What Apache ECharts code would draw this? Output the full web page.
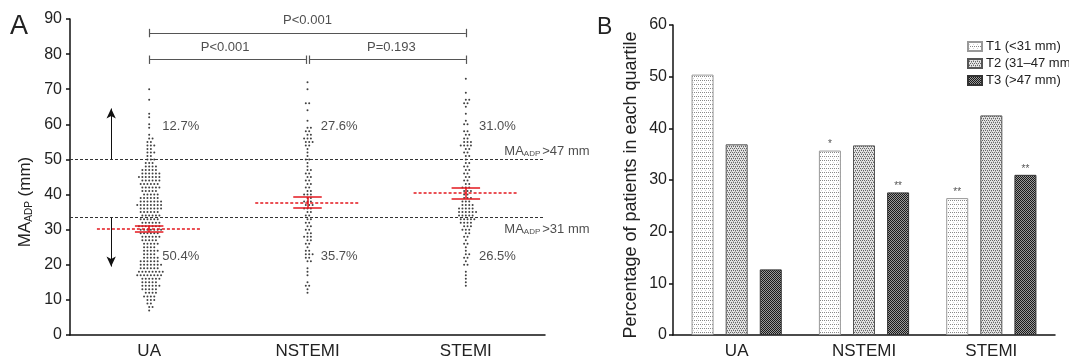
<!DOCTYPE html>
<html>
<head>
<meta charset="utf-8">
<script src="https://cdn.jsdelivr.net/npm/echarts@6/dist/echarts.min.js"></script>
<style>
  html, body { margin: 0; padding: 0; background: #fff; }
  #chart { width: 1069px; height: 361px; }
</style>
</head>
<body>
<div id="chart"></div>
<script>
const groups = ["UA", "NSTEMI", "STEMI"];

// panel A: dots per 1-mm row, first row value in *Start
const uaStart = 7;
const uaCounts = [1, 2, 2, 3, 4, 4, 5, 6, 5, 6,
  8, 8, 6, 7, 6, 5, 4, 5, 4, 5,
  5, 6, 6, 7, 7, 6, 6, 6, 6, 7,
  8, 7, 6, 5, 5, 6, 6, 6, 7, 6,
  5, 4, 3, 3, 2, 3, 2, 3, 2, 2,
  1, 0, 1, 1, 0, 1, 1, 0, 0, 0,
  1, 0, 0, 1];
const nstemiStart = 12;
const nstemiCounts = [1, 1, 2, 1, 0, 1, 1, 1, 0, 2,
  2, 3, 2, 1, 2, 2, 3, 2, 2, 2,
  2, 2, 2, 2, 3, 3, 3, 2, 3, 2,
  2, 2, 2, 2, 2, 2, 1, 1, 2, 1,
  1, 1, 2, 3, 3, 2, 2, 2, 0, 1,
  0, 0, 1, 0, 2, 0, 0, 0, 1, 0, 1];
const stemiStart = 14;
const stemiCounts = [1, 1, 1, 1, 1, 0, 2, 1, 2, 2,
  1, 1, 2, 1, 2, 2, 3, 3, 4, 5,
  5, 6, 5, 4, 3, 3, 2, 3, 3, 2,
  2, 2, 2, 2, 2, 2, 1, 2, 2, 2,
  4, 3, 2, 2, 2, 0, 2, 1, 0, 1,
  0, 1, 2, 2, 0, 1, 0, 0, 0, 1];

const meanA = [30.2, 37.7, 40.4];
const semA = [0.9, 1.6, 1.5];
const cutHigh = 50;
const cutLow = 33.4;
const upperPct = ["12.7%", "27.6%", "31.0%"];
const lowerPct = ["50.4%", "35.7%", "26.5%"];
const pTop = "P<0.001";
const pPairs = ["P<0.001", "P=0.193"];

// panel B
const seriesNames = ["T1 (<31 mm)", "T2 (31\u201347 mm)", "T3 (>47 mm)"];
const t1 = [50.4, 35.7, 26.5];
const t2 = [36.9, 36.7, 42.5];
const t3 = [12.7, 27.6, 31.0];
const t1Stars = ["", "*", "**"];
const t2Stars = ["", "", ""];
const t3Stars = ["", "**", "**"];

const FONT = "Liberation Sans, Arial, sans-serif";
const dx = 3.4 / 158.3; // dot spacing in axis units

function buildDots(g, start, counts) {
  const pts = [];
  counts.forEach((c, k) => {
    // every other row shifted half a step, like a swarm
    const shift = k % 2 ? dx / 2 : 0;
    for (let i = 0; i < c; i++) {
      pts.push([g + 0.5 + (i - (c - 1) / 2) * dx + (c > 1 ? shift : 0), start + k]);
    }
  });
  return pts;
}

function pattern(w, h, draw) {
  const c = document.createElement("canvas");
  c.width = w;
  c.height = h;
  draw(c.getContext("2d"));
  return { image: c, repeat: "repeat" };
}

const fillT1 = pattern(4, 4, (ctx) => {
  ctx.fillStyle = "#fff";
  ctx.fillRect(0, 0, 4, 4);
  ctx.fillStyle = "#888";
  ctx.fillRect(0, 0, 1, 1);
  ctx.fillRect(2, 0, 1, 1);
  ctx.fillStyle = "#d4d4d4";
  ctx.fillRect(1, 2, 1, 1);
});
const fillT2 = pattern(4, 4, (ctx) => {
  ctx.fillStyle = "#e4e4e4";
  ctx.fillRect(0, 0, 4, 4);
  ctx.fillStyle = "#666";
  ctx.fillRect(0, 0, 1, 1);
  ctx.fillRect(2, 0, 1, 1);
  ctx.fillRect(1, 2, 1, 1);
  ctx.fillRect(3, 2, 1, 1);
  ctx.fillStyle = "#aaa";
  ctx.fillRect(1, 1, 1, 1);
  ctx.fillRect(3, 3, 1, 1);
});
const fillT3 = pattern(2, 2, (ctx) => {
  ctx.fillStyle = "#9a9a9a";
  ctx.fillRect(0, 0, 2, 2);
  ctx.fillStyle = "#1a1a1a";
  ctx.fillRect(0, 0, 1, 1);
  ctx.fillRect(1, 1, 1, 1);
});

function seg(x1, y1, x2, y2) {
  return [{ coord: [x1, y1] }, { coord: [x2, y2] }];
}

function lineGroup(name, data, lineStyle, symbol) {
  return {
    name: name,
    type: "line",
    xAxisIndex: 1,
    yAxisIndex: 0,
    data: [],
    markLine: {
      silent: true,
      symbol: symbol || ["none", "none"],
      symbolSize: [7, 10],
      label: { show: false },
      lineStyle: lineStyle,
      data: data,
    },
  };
}

function textGroup(items, position, style) {
  return {
    type: "scatter",
    xAxisIndex: 1,
    yAxisIndex: 0,
    symbolSize: 1,
    itemStyle: { color: "transparent" },
    silent: true,
    label: Object.assign(
      { show: true, position: position, distance: 0, formatter: "{b}", fontFamily: FONT },
      style,
    ),
    data: items,
  };
}

const meanSegs = meanA.map((m, g) => seg(g + 0.17, m, g + 0.83, m));
const semSegs = [];
meanA.forEach((m, g) => {
  const c = g + 0.5;
  semSegs.push(seg(c - 0.09, m + semA[g], c + 0.09, m + semA[g]));
  semSegs.push(seg(c - 0.09, m - semA[g], c + 0.09, m - semA[g]));
  semSegs.push(seg(c, m - semA[g], c, m + semA[g]));
});
const bracketSegs = [
  seg(0.5, 86, 2.5, 86), seg(0.5, 84.8, 0.5, 87.2), seg(2.5, 84.8, 2.5, 87.2),
  seg(0.5, 78.4, 1.49, 78.4), seg(0.5, 77.2, 0.5, 79.6), seg(1.49, 77.2, 1.49, 79.6),
  seg(1.51, 78.4, 2.5, 78.4), seg(1.51, 77.2, 1.51, 79.6), seg(2.5, 77.2, 2.5, 79.6),
];

const subRich = {
  n: { fontSize: 13, color: "#222", fontFamily: FONT, lineHeight: 16, verticalAlign: "bottom" },
  s: { fontSize: 8, color: "#222", fontFamily: FONT, lineHeight: 16, verticalAlign: "bottom", padding: [0, 2, 0, 0] },
};

const chart = echarts.init(document.getElementById("chart"));

chart.setOption({
  animation: false,
  backgroundColor: "#fff",
  textStyle: { fontFamily: FONT },
  graphic: [
    { type: "text", left: 10, top: 13, style: { text: "A", fontSize: 27, fill: "#222", fontFamily: FONT } },
    { type: "text", left: 597, top: 16, style: { text: "B", fontSize: 23, fill: "#222", fontFamily: FONT } },
  ],
  legend: {
    data: seriesNames,
    orient: "vertical",
    left: 967,
    top: 40,
    padding: 0,
    itemWidth: 14,
    itemHeight: 9,
    itemGap: 4,
    icon: "rect",
    textStyle: { fontSize: 13, color: "#222", fontFamily: FONT, padding: [0, 0, 0, -1] },
  },
  grid: [
    { left: 70, top: 19, width: 475, height: 316 },
    { left: 673, top: 25, width: 382, height: 310 },
  ],
  xAxis: [
    {
      type: "category",
      gridIndex: 0,
      data: groups,
      axisLine: { lineStyle: { color: "#111", width: 1.5 } },
      axisTick: { alignWithLabel: true, length: 4, lineStyle: { color: "#111", width: 1.5 } },
      axisLabel: { fontSize: 17, color: "#222", margin: 8, fontFamily: FONT },
    },
    { type: "value", gridIndex: 0, min: 0, max: 3, show: false },
    {
      type: "category",
      gridIndex: 1,
      data: groups,
      axisLine: { lineStyle: { color: "#111", width: 1.5 } },
      axisTick: { alignWithLabel: true, length: 4, lineStyle: { color: "#111", width: 1.5 } },
      axisLabel: { fontSize: 17, color: "#222", margin: 8, fontFamily: FONT },
    },
  ],
  yAxis: [
    {
      type: "value",
      gridIndex: 0,
      min: 0,
      max: 90,
      interval: 10,
      splitLine: { show: false },
      axisLine: { show: true, lineStyle: { color: "#111", width: 1.5 } },
      axisTick: { show: true, length: 4, lineStyle: { color: "#111", width: 1.5 } },
      axisLabel: { fontSize: 16, color: "#222", margin: 8, fontFamily: FONT },
      name: "{n|MA}{s|ADP}{n| (mm)}",
      nameLocation: "middle",
      nameRotate: 90,
      nameGap: 36,
      nameTextStyle: {
        padding: [0, 50, 0, 0],
        rich: {
          n: { fontSize: 17, color: "#222", fontFamily: FONT, lineHeight: 20, verticalAlign: "bottom" },
          s: { fontSize: 10, color: "#222", fontFamily: FONT, lineHeight: 20, verticalAlign: "bottom" },
        },
      },
    },
    {
      type: "value",
      gridIndex: 1,
      min: 0,
      max: 60,
      interval: 10,
      splitLine: { show: false },
      axisLine: { show: true, lineStyle: { color: "#111", width: 1.5 } },
      axisTick: { show: true, length: 4, lineStyle: { color: "#111", width: 1.5 } },
      axisLabel: { fontSize: 16, color: "#222", margin: 6, fontFamily: FONT },
      name: "Percentage of patients in each quartile",
      nameLocation: "middle",
      nameRotate: 90,
      nameGap: 33,
      nameTextStyle: { fontSize: 18, color: "#222", fontFamily: FONT, padding: [0, 10, 0, 0] },
    },
  ],
  series: [
    // panel A dots
    {
      type: "scatter",
      xAxisIndex: 1,
      yAxisIndex: 0,
      symbolSize: 2,
      itemStyle: { color: "#111" },
      data: buildDots(0, uaStart, uaCounts)
        .concat(buildDots(1, nstemiStart, nstemiCounts))
        .concat(buildDots(2, stemiStart, stemiCounts)),
    },
    lineGroup("cuts", [seg(0, cutHigh, 3, cutHigh), seg(0, cutLow, 3, cutLow)],
      { color: "#333", width: 1, type: [3, 2] }),
    lineGroup("means", meanSegs, { color: "#e3171e", width: 1.5, type: [3, 2] }),
    lineGroup("sem", semSegs, { color: "#e3171e", width: 1.5, type: "solid" }),
    lineGroup("brackets", bracketSegs, { color: "#555", width: 1.2, type: "solid" }),
    lineGroup("arrows", [seg(0.26, cutHigh, 0.26, 64.5), seg(0.26, cutLow, 0.26, 19.5)],
      { color: "#111", width: 1, type: "solid" }, ["none", "arrow"]),
    textGroup(
      upperPct.map((t, g) => ({ name: t, value: [g + 0.58, 59.3] }))
        .concat(lowerPct.map((t, g) => ({ name: t, value: [g + 0.58, 22.3] }))),
      "right", { fontSize: 13, color: "#222" }),
    textGroup(
      [
        { name: pTop, value: [1.5, 89.7] },
        { name: pPairs[0], value: [0.98, 81.8] },
        { name: pPairs[1], value: [2.03, 81.8] },
      ],
      "inside", { fontSize: 13, color: "#222" }),
    textGroup(
      [
        { name: "{n|MA}{s|ADP}{n|>47 mm}", value: [2.74, 52.7] },
        { name: "{n|MA}{s|ADP}{n|>31 mm}", value: [2.74, 30.5] },
      ],
      "right", { rich: subRich }),
    // panel B bars
    {
      name: seriesNames[0],
      type: "bar",
      xAxisIndex: 2,
      yAxisIndex: 1,
      barWidth: 22,
      barGap: "55%",
      itemStyle: { color: fillT1, borderColor: "#999", borderWidth: 1 },
      label: { show: true, position: "top", distance: 1, fontSize: 10, color: "#555", formatter: (p) => t1Stars[p.dataIndex] },
      data: t1,
    },
    {
      name: seriesNames[1],
      type: "bar",
      xAxisIndex: 2,
      yAxisIndex: 1,
      barWidth: 22,
      barGap: "55%",
      itemStyle: { color: fillT2, borderColor: "#555", borderWidth: 1 },
      label: { show: true, position: "top", distance: 1, fontSize: 10, color: "#555", formatter: (p) => t2Stars[p.dataIndex] },
      data: t2,
    },
    {
      name: seriesNames[2],
      type: "bar",
      xAxisIndex: 2,
      yAxisIndex: 1,
      barWidth: 22,
      barGap: "55%",
      itemStyle: { color: fillT3, borderColor: "#333", borderWidth: 1 },
      label: { show: true, position: "top", distance: 1, fontSize: 10, color: "#555", formatter: (p) => t3Stars[p.dataIndex] },
      data: t3,
    },
  ],
});

window.addEventListener("resize", () => chart.resize());
</script>
</body>
</html>
